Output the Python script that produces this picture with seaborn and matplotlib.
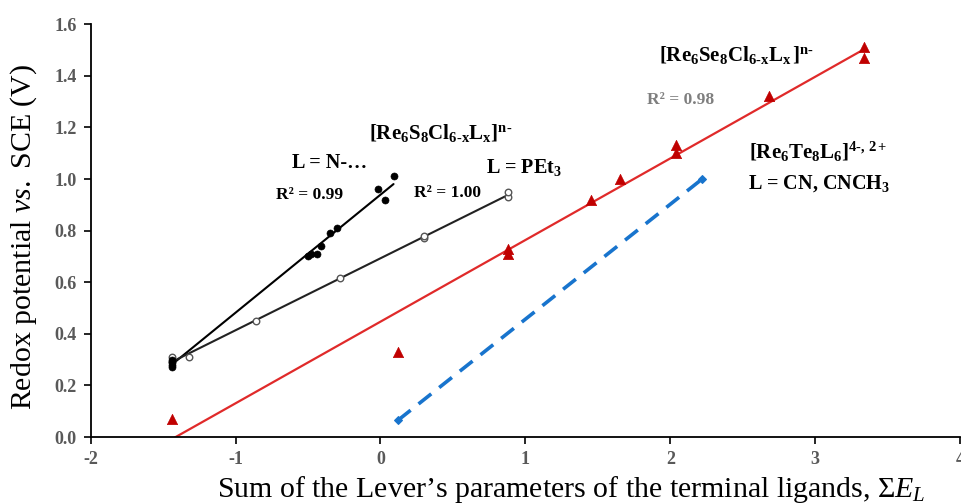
import numpy as np
import pandas as pd
import matplotlib
matplotlib.use("Agg")
import matplotlib.pyplot as plt
import seaborn as sns

# ---- data ----
n_x = [-1.44, -1.44, -1.44, -1.44, -0.50, -0.48, -0.44, -0.41, -0.35, -0.30, -0.02, 0.03, 0.09]
n_y = [0.27, 0.28, 0.29, 0.30, 0.70, 0.71, 0.71, 0.74, 0.79, 0.81, 0.96, 0.92, 1.01]

p_x = [-1.44, -1.44, -1.32, -0.86, -0.28, 0.30, 0.30, 0.88, 0.88]
p_y = [0.29, 0.31, 0.31, 0.45, 0.615, 0.77, 0.78, 0.93, 0.95]

se_x = [-1.44, 0.12, 0.88, 0.88, 1.45, 1.65, 2.04, 2.04, 2.68, 3.34, 3.34]
se_y = [0.07, 0.33, 0.73, 0.71, 0.92, 1.00, 1.13, 1.10, 1.32, 1.51, 1.47]

te_x = [0.12, 2.22]
te_y = [0.065, 1.00]

x_ticks = [-2, -1, 0, 1, 2, 3, 4]
y_ticks = [0.0, 0.2, 0.4, 0.6, 0.8, 1.0, 1.2, 1.4, 1.6]

# ---- style ----
sns.set_theme(style="white")
plt.rcParams["font.family"] = ["Liberation Serif", "DejaVu Serif"]
plt.rcParams["mathtext.fontset"] = "custom"
plt.rcParams["mathtext.rm"] = "Liberation Serif"
plt.rcParams["mathtext.it"] = "Liberation Serif:italic"
plt.rcParams["mathtext.bf"] = "Liberation Serif:bold"

fig = plt.figure(figsize=(9.61, 5.03), dpi=100)
ax = fig.add_axes([0.0944, 0.131, 0.9046, 0.821])

df_n = pd.DataFrame({"x": n_x, "y": n_y})
df_p = pd.DataFrame({"x": p_x, "y": p_y})
df_se = pd.DataFrame({"x": se_x, "y": se_y})
df_te = pd.DataFrame({"x": te_x, "y": te_y})

# trendlines
sns.regplot(data=df_se, x="x", y="y", scatter=False, ci=None, truncate=True,
            color="#E02A2A", line_kws={"lw": 1.6}, ax=ax)
sns.regplot(data=df_n, x="x", y="y", scatter=False, ci=None, truncate=True,
            color="black", line_kws={"lw": 1.5}, ax=ax)
sns.regplot(data=df_p, x="x", y="y", scatter=False, ci=None, truncate=True,
            color="#222222", line_kws={"lw": 1.5}, ax=ax)

# Te series: dashed line with diamonds
sns.lineplot(data=df_te, x="x", y="y", ax=ax, color="#1874CD", lw=2.6,
             linestyle=(0, (4.5, 2.8)), marker="D", markersize=4.5,
             markeredgecolor="#1874CD")

# scatter points
sns.scatterplot(data=df_se, x="x", y="y", marker="^", s=55, color="#C00000",
                edgecolor="#C00000", linewidth=0.5, ax=ax, zorder=5)
sns.scatterplot(data=df_p, x="x", y="y", marker="o", s=22, facecolor="white",
                edgecolor="#555555", linewidth=1.0, ax=ax, zorder=5)
sns.scatterplot(data=df_n, x="x", y="y", marker="o", s=26, color="black",
                edgecolor="black", ax=ax, zorder=6)

# axes
ax.set_xlim(-2, 4)
ax.set_ylim(0, 1.6)
ax.set_xticks(x_ticks)
ax.set_yticks(y_ticks)
ax.set_xticklabels([str(t) for t in x_ticks])
ax.set_yticklabels([f"{t:.1f}" for t in y_ticks])
for lbl in ax.get_xticklabels() + ax.get_yticklabels():
    lbl.set_fontweight("bold")
    lbl.set_color("#595959")
    lbl.set_fontsize(13)
ax.tick_params(axis="both", direction="out", length=5, width=1.2, color="black",
               left=True, bottom=True, pad=5)
for side in ["top", "right"]:
    ax.spines[side].set_visible(False)
for side in ["left", "bottom"]:
    ax.spines[side].set_color("black")
    ax.spines[side].set_linewidth(1.3)

ax.set_xlabel(r"Sum of the Lever’s parameters of the terminal ligands, $\mathit{\Sigma E_L}$",
              fontsize=21.5, color="black")
ax.xaxis.set_label_coords(0.5525, -0.089)
ax.set_ylabel(r"Redox potential $\mathit{vs.}$ SCE (V)", fontsize=21.5, color="black")
ax.yaxis.set_label_coords(-0.06, 0.484)

# annotations
bold = dict(ha="center", va="center", fontweight="bold", color="black")
ax.text(0.416, 1.178, r"$\mathbf{[Re_6S_8Cl_{6\text{-}x}L_x]^{n\text{-}}}$", fontsize=15, **bold)
ax.text(-0.349, 1.062, "L = N-…", fontsize=14.5, **bold)
ax.text(-0.488, 0.938, "R² = 0.99", fontsize=12.5, **bold)
ax.text(0.465, 0.946, "R² = 1.00", fontsize=12.5, **bold)
ax.text(0.988, 1.043, r"L = PEt$\mathbf{_3}$", fontsize=14.5, **bold)
ax.text(2.457, 1.481, r"$\mathbf{[Re_6Se_8Cl_{6\text{-}x}L_x\,]^{n\text{-}}}$", fontsize=15, **bold)
ax.text(2.07, 1.306, "R² = 0.98", fontsize=12.5, ha="center", va="center",
        fontweight="bold", color="#7F7F7F")
ax.text(3.017, 1.105, r"$\mathbf{[Re_6Te_8L_6]^{4\text{-},\,2+}}$", fontsize=15, **bold)
ax.text(3.024, 0.984, r"L = CN, CNCH$\mathbf{_3}$", fontsize=14.5, **bold)

fig.savefig("out.png", dpi=100)
